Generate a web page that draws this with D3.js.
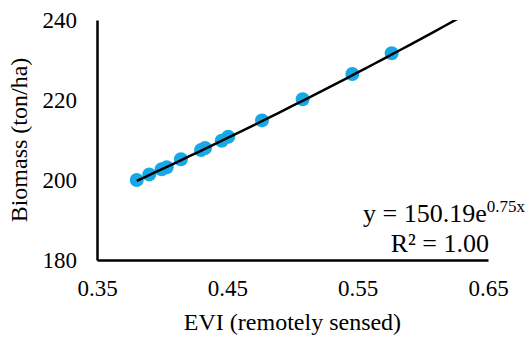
<!DOCTYPE html>
<html>
<head>
<meta charset="utf-8">
<script src="https://cdn.jsdelivr.net/npm/d3@7"></script>
<style>
  body { margin: 0; background: #fff; }
  svg text { font-family: "Liberation Serif", "Times New Roman", serif; fill: #000; }
</style>
</head>
<body>
<div id="chart"></div>
<script>
// EVI vs biomass
const evi = [0.3805, 0.3901, 0.3996, 0.4035, 0.4144, 0.4298, 0.4329, 0.4457, 0.4507, 0.4766, 0.5078, 0.5459, 0.5761];
const biomass = [200.0, 201.4, 202.7, 203.2, 205.2, 207.5, 208.0, 209.8, 210.8, 214.9, 220.2, 226.5, 231.7];
const xTicks = [0.35, 0.45, 0.55, 0.65];
const yTicks = [180, 200, 220, 240];
// exponential trendline y = a * e^(b x)
const fitA = 150.19;
const fitB = 0.75;

const width = 529, height = 337;
const serif = '"Liberation Serif", "Times New Roman", serif';

const svg = d3.select('#chart').append('svg')
    .attr('width', width)
    .attr('height', height);

const x = d3.scaleLinear().domain([0.35, 0.65]).range([97, 488]);
const y = d3.scaleLinear().domain([180, 240]).range([260, 20]);

// clip for the trendline
svg.append('clipPath').attr('id', 'plot')
    .append('rect')
    .attr('x', x(0.35)).attr('y', y(240))
    .attr('width', x(0.65) - x(0.35))
    .attr('height', y(180) - y(240));

// axes
const xAxis = svg.append('g')
    .attr('transform', 'translate(0,' + y(180) + ')')
    .call(d3.axisBottom(x).tickValues(xTicks).tickSize(0).tickPadding(20).tickFormat(d3.format('.2f')));

const yAxis = svg.append('g')
    .attr('transform', 'translate(' + x(0.35) + ',0)')
    .call(d3.axisLeft(y).tickValues(yTicks).tickSize(0).tickPadding(20).tickFormat(d3.format('d')));

[xAxis, yAxis].forEach(g => {
    g.attr('font-family', serif).attr('font-size', 23);
    g.select('.domain').attr('stroke', '#000').attr('stroke-width', 2.5);
    g.selectAll('text')
        .style('font-family', serif)
        .style('font-size', '23px')
        .attr('fill', '#000');
});

// points
const pts = evi.map((v, i) => ({ x: v, y: biomass[i] }));
svg.append('g').selectAll('circle')
    .data(pts)
    .enter()
    .append('circle')
    .attr('cx', d => x(d.x))
    .attr('cy', d => y(d.y))
    .attr('r', 7)
    .attr('fill', '#17a9e6');

// trendline, from first point forward, clipped at the top of the plot
const xMin = d3.min(evi);
const trend = d3.range(0, 41).map(i => {
    const xv = xMin + (0.65 - xMin) * i / 40;
    return { x: xv, y: fitA * Math.exp(fitB * xv) };
});
svg.append('path')
    .datum(trend)
    .attr('clip-path', 'url(#plot)')
    .attr('fill', 'none')
    .attr('stroke', '#000')
    .attr('stroke-width', 2.5)
    .attr('d', d3.line().x(d => x(d.x)).y(d => y(d.y)));

// equation labels
const eq = svg.append('text')
    .attr('x', 525)
    .attr('y', 222)
    .attr('text-anchor', 'end')
    .style('font-size', '26px');
eq.append('tspan').text('y = 150.19e');
eq.append('tspan').attr('dy', -10).style('font-size', '17px').text('0.75x');

svg.append('text')
    .attr('x', 489)
    .attr('y', 252)
    .attr('text-anchor', 'end')
    .style('font-size', '26px')
    .text('R² = 1.00');

// axis titles
svg.append('text')
    .attr('x', (x(0.35) + x(0.65)) / 2)
    .attr('y', 330)
    .attr('text-anchor', 'middle')
    .style('font-size', '24px')
    .text('EVI (remotely sensed)');

svg.append('text')
    .attr('transform', 'translate(27,' + ((y(180) + y(240)) / 2) + ') rotate(-90)')
    .attr('text-anchor', 'middle')
    .style('font-size', '24px')
    .text('Biomass (ton/ha)');
</script>
</body>
</html>
